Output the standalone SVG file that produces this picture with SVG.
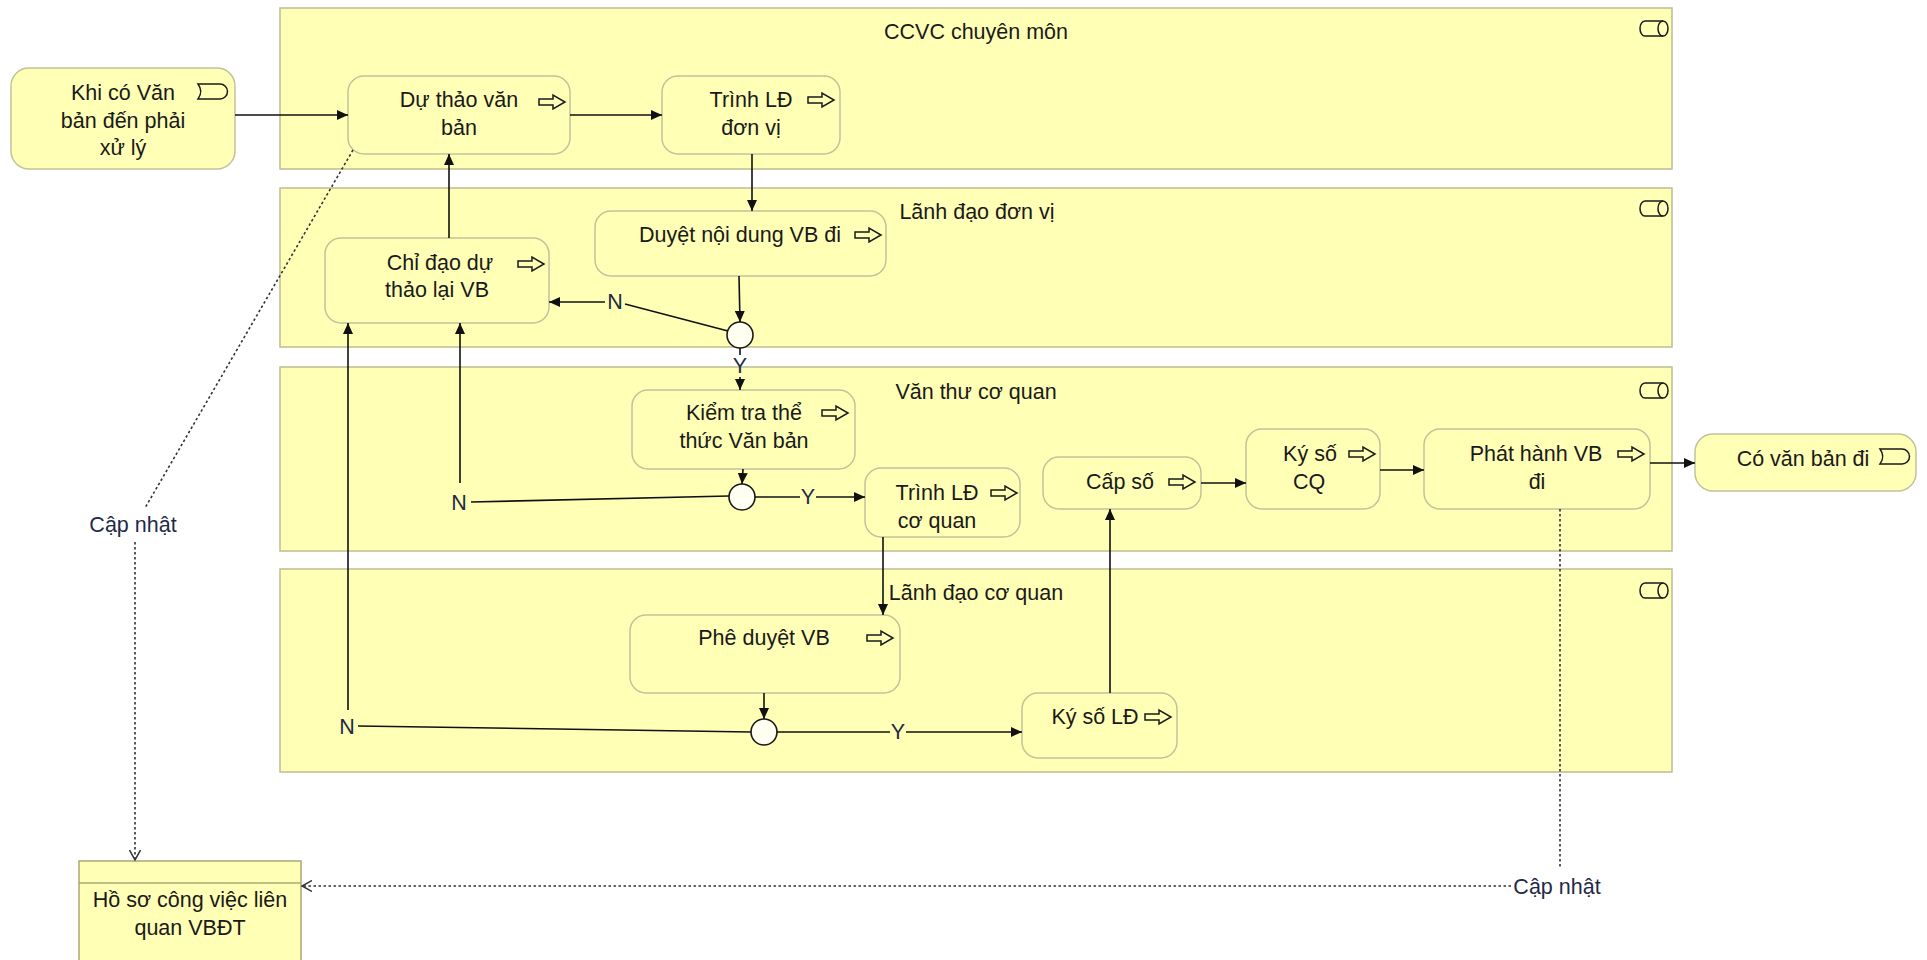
<svg xmlns="http://www.w3.org/2000/svg" xmlns:xlink="http://www.w3.org/1999/xlink" width="1927" height="960" viewBox="0 0 1927 960">
<style>
.lane{fill:#ffffb5;stroke:#bdbd92;stroke-width:1.5}
.node{fill:#ffffb5;stroke:#c2c29a;stroke-width:1.5}
.obj{fill:#ffffb5;stroke:#a8a878;stroke-width:1.5}
.gw{fill:#fffff2;stroke:#1a1a1a;stroke-width:1.6}
text{font-family:"Liberation Sans",Arial,sans-serif;font-size:21.5px;fill:#1a1a1a;text-anchor:middle}
.lbl{fill:#1f2a48}
.flow{fill:none;stroke:#111;stroke-width:1.6}
.dot{fill:none;stroke:#333;stroke-width:1.6;stroke-dasharray:2.5 2.5}
.ico{fill:none;stroke:#1a1a1a;stroke-width:1.5}
</style>
<defs>
<marker id="arr" markerUnits="userSpaceOnUse" markerWidth="12" markerHeight="10" refX="11" refY="5" orient="auto">
<path d="M0,0 L11,5 L0,10 Z" fill="#111"/>
</marker>
<marker id="open" markerUnits="userSpaceOnUse" markerWidth="12" markerHeight="12" refX="10" refY="5.5" orient="auto">
<path d="M0,0 L10,5.5 L0,11" fill="none" stroke="#333" stroke-width="1.5"/>
</marker>
<path id="proc" class="ico" d="M0,-3 H14 V-7 L26,0 L14,7 V3 H0 Z"/>
<path id="evt" class="ico" d="M0,0 H22 A7.5,7.5 0 0 1 22,15 H0 Q5.5,7.5 0,0 Z"/>
<g id="laneico" class="ico">
<path d="M5,0 H23 A5,7.5 0 0 1 23,15 H5 A5,7.5 0 0 1 5,0 Z"/>
<path d="M23,0 A5,7.5 0 0 0 23,15"/>
</g>
</defs>

<g id="lane-ccvc">
<rect class="lane" x="280" y="8" width="1392" height="161"/>
<text x="976" y="39">CCVC chuyên môn</text>
<use href="#laneico" x="1640" y="21"/>
</g>
<g id="lane-ldđv">
<rect class="lane" x="280" y="188" width="1392" height="159"/>
<text x="977" y="219">Lãnh đạo đơn vị</text>
<use href="#laneico" x="1640" y="201"/>
</g>
<g id="lane-vtcq">
<rect class="lane" x="280" y="367" width="1392" height="184"/>
<text x="976" y="399">Văn thư cơ quan</text>
<use href="#laneico" x="1640" y="383"/>
</g>
<g id="lane-ldcq">
<rect class="lane" x="280" y="569" width="1392" height="203"/>
<text x="976" y="600">Lãnh đạo cơ quan</text>
<use href="#laneico" x="1640" y="583"/>
</g>

<g id="n-start">
<rect class="node" x="11" y="68" width="224" height="101" rx="18"/>
<text x="123" y="100">Khi có Văn</text>
<text x="123" y="127.5">bản đến phải</text>
<text x="123" y="155">xử lý</text>
<use href="#evt" x="198" y="84"/>
</g>
<g id="n-duthao">
<rect class="node" x="348" y="76" width="222" height="78" rx="16"/>
<text x="459" y="107">Dự thảo văn</text>
<text x="459" y="135">bản</text>
<use href="#proc" x="539" y="102"/>
</g>
<g id="n-trinhldđv">
<rect class="node" x="662" y="76" width="178" height="78" rx="16"/>
<text x="751" y="107">Trình LĐ</text>
<text x="751" y="135">đơn vị</text>
<use href="#proc" x="808" y="100"/>
</g>
<g id="n-duyet">
<rect class="node" x="595" y="211" width="291" height="65" rx="16"/>
<text x="740" y="242">Duyệt nội dung VB đi</text>
<use href="#proc" x="855" y="235"/>
</g>
<g id="n-chidao">
<rect class="node" x="325" y="238" width="224" height="85" rx="16"/>
<text x="440" y="270">Chỉ đạo dự</text>
<text x="437" y="297">thảo lại VB</text>
<use href="#proc" x="518" y="264"/>
</g>
<g id="g1"><circle class="gw" cx="740" cy="335" r="13"/></g>
<g id="n-kiemtra">
<rect class="node" x="632" y="390" width="223" height="79" rx="16"/>
<text x="744" y="420">Kiểm tra thể</text>
<text x="744" y="448">thức Văn bản</text>
<use href="#proc" x="822" y="413"/>
</g>
<g id="g2"><circle class="gw" cx="742" cy="497" r="13"/></g>
<g id="n-trinhldcq">
<rect class="node" x="865" y="468" width="155" height="69" rx="16"/>
<text x="937" y="500">Trình LĐ</text>
<text x="937" y="528">cơ quan</text>
<use href="#proc" x="991" y="493"/>
</g>
<g id="n-capso">
<rect class="node" x="1043" y="457" width="158" height="52" rx="16"/>
<text x="1120" y="489">Cấp số</text>
<use href="#proc" x="1169" y="482"/>
</g>
<g id="n-kysocq">
<rect class="node" x="1246" y="429" width="134" height="80" rx="16"/>
<text x="1310" y="461">Ký số</text>
<text x="1309" y="489">CQ</text>
<use href="#proc" x="1349" y="454"/>
</g>
<g id="n-phathanh">
<rect class="node" x="1424" y="429" width="226" height="80" rx="16"/>
<text x="1536" y="461">Phát hành VB</text>
<text x="1537" y="489">đi</text>
<use href="#proc" x="1618" y="454"/>
</g>
<g id="n-end">
<rect class="node" x="1695" y="434" width="221" height="57" rx="18"/>
<text x="1803" y="466">Có văn bản đi</text>
<use href="#evt" x="1880" y="449"/>
</g>
<g id="n-pheduyet">
<rect class="node" x="630" y="615" width="270" height="78" rx="16"/>
<text x="764" y="645">Phê duyệt VB</text>
<use href="#proc" x="867" y="638"/>
</g>
<g id="g3"><circle class="gw" cx="764" cy="732" r="13"/></g>
<g id="n-kysold">
<rect class="node" x="1022" y="693" width="155" height="65" rx="16"/>
<text x="1095" y="724">Ký số LĐ</text>
<use href="#proc" x="1145" y="717"/>
</g>
<g id="n-hoso">
<rect class="obj" x="79" y="861" width="222" height="110"/>
<line x1="79" y1="883" x2="301" y2="883" stroke="#a8a878" stroke-width="1.5"/>
<text x="190" y="907">Hồ sơ công việc liên</text>
<text x="190" y="935">quan VBĐT</text>
</g>

<g id="connectors">
<path class="flow" d="M235,115 H348" marker-end="url(#arr)"/>
<path class="flow" d="M570,115 H662" marker-end="url(#arr)"/>
<path class="flow" d="M752,154 V211" marker-end="url(#arr)"/>
<path class="flow" d="M739,276 L740,322" marker-end="url(#arr)"/>
<path class="flow" d="M449,238 V154" marker-end="url(#arr)"/>
<path class="flow" d="M728,331 L625,304"/>
<text class="lbl" x="615" y="309">N</text>
<path class="flow" d="M605,302 H549" marker-end="url(#arr)"/>
<path class="flow" d="M740,348 V355"/>
<text class="lbl" x="740" y="373">Y</text>
<path class="flow" d="M740,377 V390" marker-end="url(#arr)"/>
<path class="flow" d="M743,469 L742,484" marker-end="url(#arr)"/>
<path class="flow" d="M755,497 H800"/>
<text class="lbl" x="808" y="504">Y</text>
<path class="flow" d="M816,497 H865" marker-end="url(#arr)"/>
<path class="flow" d="M729,496 L471,502"/>
<text class="lbl" x="459" y="510">N</text>
<path class="flow" d="M460,483 V323" marker-end="url(#arr)"/>
<path class="flow" d="M883,537 V615" marker-end="url(#arr)"/>
<path class="flow" d="M764,693 V719" marker-end="url(#arr)"/>
<path class="flow" d="M777,732 H890"/>
<text class="lbl" x="898" y="739">Y</text>
<path class="flow" d="M906,732 H1022" marker-end="url(#arr)"/>
<path class="flow" d="M751,732 L358,726"/>
<text class="lbl" x="347" y="734">N</text>
<path class="flow" d="M348,710 V323" marker-end="url(#arr)"/>
<path class="flow" d="M1110,693 V509" marker-end="url(#arr)"/>
<path class="flow" d="M1201,483 H1246" marker-end="url(#arr)"/>
<path class="flow" d="M1380,470 H1424" marker-end="url(#arr)"/>
<path class="flow" d="M1650,463 H1695" marker-end="url(#arr)"/>
<path class="dot" d="M353,150 L145,508"/>
<text class="lbl" x="133" y="532">Cập nhật</text>
<path class="dot" d="M135,542 V860" marker-end="url(#open)"/>
<path class="dot" d="M1560,509 V868"/>
<text class="lbl" x="1557" y="894">Cập nhật</text>
<path class="dot" d="M1511,886 H302" marker-end="url(#open)"/>
</g>
</svg>
